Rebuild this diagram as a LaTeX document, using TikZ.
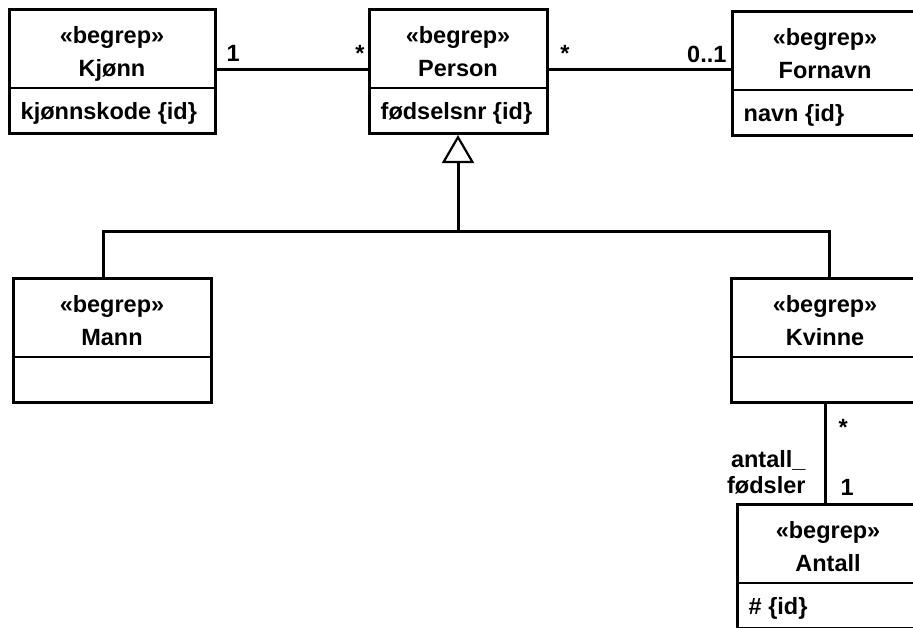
\documentclass[tikz,border=0pt]{standalone}
\usepackage{fontspec}
\setmainfont{Liberation Sans}
\usetikzlibrary{arrows.meta}
\tikzstyle{klasse} = [draw,line width=3pt,minimum height=124pt,inner sep=0pt,anchor=north]
\tikzstyle{skille} = [line width=1.4pt]
\tikzstyle{tekst} = [anchor=base,inner sep=0pt]
\tikzstyle{linje} = [line width=3pt]
\tikzstyle{mult} = [inner sep=0pt]
\tikzstyle{arv} = [-{Triangle[open,length=28pt,width=32pt,line width=2.2pt]}]
\newcommand\begrep[6]{%
	\node[klasse,minimum width=#4pt] (#1) at (#2,#3) {};
	\draw[skille] ([yshift=-80pt]#1.north west) -- ([yshift=-80pt]#1.north east);
	\node[tekst] (#1-st) at ([yshift=-35pt]#1.north) {«begrep»};
	\node[tekst] (#1-navn) at ([yshift=-68pt]#1.north) {#5};
	\node[tekst,anchor=base west] (#1-attr) at ([xshift=13pt,yshift=-111pt]#1.north west) {#6};
}

\begin{document}
\begin{tikzpicture}[x=1pt,y=-1pt,every node/.style={font=\bfseries\fontsize{23.5}{26}\selectfont}]
\useasboundingbox (0,0) rectangle (913,627);
\clip (0,0) rectangle (913,627);

\begrep{kjonn}{112}{8}{206}{Kjønn}{kjønnskode \{id\}}
\begrep{person}{458}{8}{178}{Person}{fødselsnr \{id\}}
\begrep{fornavn}{825}{10}{186}{Fornavn}{navn \{id\}}
\begrep{mann}{112}{277}{198}{Mann}{}
\begrep{kvinne}{825}{277}{188}{Kvinne}{}
\begrep{antall}{828}{503}{182}{Antall}{\# \{id\}}

\draw[linje] ([yshift=2pt]kjonn.east) -- ([yshift=2pt]kjonn.east -| person.west)
	node[mult,pos=.11,above=7pt] {1}
	node[mult,pos=.95,above=7pt] {*};
\draw[linje] ([yshift=2pt]person.east) -- ([yshift=2pt]person.east -| fornavn.west)
	node[mult,pos=.09,above=7pt] {*}
	node[mult,pos=.87,above=5pt] {0..1};

\coordinate (gren) at ([yshift=-96pt]person.south);
\draw[linje,arv] (gren) -- (person.south);
\draw[linje] ([xshift=-9pt]mann.north) |- (gren) -| ([xshift=4pt]kvinne.north);

\draw[linje] (kvinne.south) -- (kvinne.south |- antall.north)
	node[mult,pos=0,anchor=north west,xshift=12pt,yshift=-14pt] {*}
	node[mult,pos=1,anchor=base west,xshift=14pt,yshift=8pt] {1}
	node[mult,pos=.69,anchor=east,align=right,xshift=-18pt] {antall\_\\fødsler};

\end{tikzpicture}
\end{document}
